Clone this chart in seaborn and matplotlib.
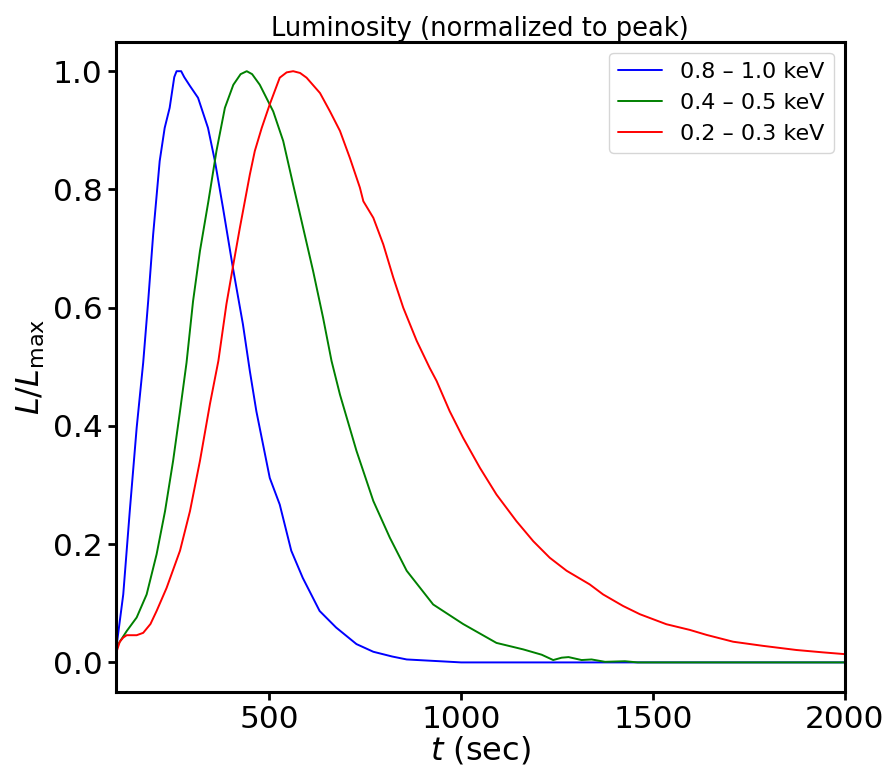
import numpy as np
import pandas as pd
import matplotlib
matplotlib.use("Agg")
import matplotlib.pyplot as plt
import seaborn as sns

# light curves, normalized to peak
t_hard = [100, 119, 136, 154, 171, 184, 197, 214, 227, 240, 252, 258, 270, 278, 293, 314, 340, 358,
          379, 405, 431, 449, 466, 501, 527, 557, 587, 631, 674, 727, 771, 820, 858, 944, 1000, 2000]
L_hard = [0.02, 0.115, 0.256, 0.397, 0.507, 0.611, 0.724, 0.848, 0.904, 0.938, 0.99, 1.0, 1.0, 0.99,
          0.975, 0.955, 0.904, 0.848, 0.769, 0.667, 0.572, 0.493, 0.425, 0.312, 0.267, 0.189, 0.143,
          0.087, 0.059, 0.031, 0.018, 0.010, 0.005, 0.002, 0.0, 0.0]

t_mid = [100, 106, 128, 154, 180, 206, 228, 249, 267, 284, 301, 319, 341, 362, 384, 406, 425, 441,
         455, 475, 510, 536, 562, 588, 614, 640, 662, 684, 727, 771, 814, 858, 927, 1005, 1092, 1162,
         1210, 1240, 1262, 1280, 1314, 1340, 1375, 1427, 1460, 2000]
L_mid = [0.02, 0.031, 0.053, 0.076, 0.115, 0.183, 0.256, 0.341, 0.425, 0.507, 0.611, 0.696, 0.780,
         0.865, 0.938, 0.977, 0.995, 1.0, 0.995, 0.977, 0.932, 0.882, 0.808, 0.735, 0.662, 0.583,
         0.51, 0.453, 0.358, 0.273, 0.211, 0.155, 0.098, 0.065, 0.033, 0.022, 0.013, 0.004, 0.008,
         0.009, 0.004, 0.005, 0.001, 0.002, 0.0, 0.0]

t_soft = [100, 110, 119, 128, 154, 171, 190, 206, 232, 267, 293, 319, 345, 367, 388, 406, 423, 436,
          449, 462, 480, 501, 527, 545, 562, 580, 597, 632, 658, 684, 710, 736, 745, 771, 797, 823,
          849, 884, 918, 936, 970, 1005, 1049, 1092, 1144, 1188, 1231, 1275, 1335, 1370, 1422, 1466,
          1535, 1596, 1640, 1709, 1787, 1874, 1943, 2000]
L_soft = [0.015, 0.035, 0.042, 0.046, 0.046, 0.050, 0.065, 0.087, 0.126, 0.189, 0.256, 0.341, 0.437,
          0.51, 0.606, 0.673, 0.735, 0.780, 0.825, 0.865, 0.904, 0.944, 0.989, 0.998, 1.0, 0.997,
          0.989, 0.963, 0.932, 0.899, 0.853, 0.803, 0.780, 0.752, 0.707, 0.651, 0.600, 0.544, 0.498,
          0.476, 0.425, 0.380, 0.329, 0.284, 0.239, 0.205, 0.177, 0.155, 0.132, 0.115, 0.0955,
          0.0815, 0.0646, 0.055, 0.0465, 0.035, 0.028, 0.021, 0.017, 0.014]

bands = ['0.8 – 1.0 keV', '0.4 – 0.5 keV', '0.2 – 0.3 keV']
colors = ['blue', 'green', 'red']

df = pd.concat([
    pd.DataFrame({'t': t_hard, 'L': L_hard, 'band': bands[0]}),
    pd.DataFrame({'t': t_mid, 'L': L_mid, 'band': bands[1]}),
    pd.DataFrame({'t': t_soft, 'L': L_soft, 'band': bands[2]}),
])

sns.set_style("ticks")
plt.rcParams['font.family'] = ['DejaVu Sans']
plt.rcParams['text.color'] = 'black'
plt.rcParams['axes.labelcolor'] = 'black'
plt.rcParams['xtick.color'] = 'black'
plt.rcParams['ytick.color'] = 'black'

fig = plt.figure(figsize=(8.92, 7.71), dpi=100)
ax = fig.add_axes([0.130, 0.1025, 0.817, 0.8435])

sns.lineplot(data=df, x='t', y='L', hue='band', hue_order=bands,
             palette=dict(zip(bands, colors)), linewidth=1.4, ax=ax, sort=False)

ax.set_xlim(100, 2000)
ax.set_ylim(-0.05, 1.05)
ax.set_xticks([500, 1000, 1500, 2000])
ax.set_yticks([0.0, 0.2, 0.4, 0.6, 0.8, 1.0])
ax.set_yticklabels(['0.0', '0.2', '0.4', '0.6', '0.8', '1.0'])
ax.tick_params(labelsize=22.5, width=2, length=6, direction='out')
for s in ax.spines.values():
    s.set_linewidth(2.2)
    s.set_color('black')

ax.set_xlabel('$t$ (sec)', fontsize=23, labelpad=0)
ax.set_ylabel('$L/L_{\\rm max}$', fontsize=23, labelpad=4)
ax.set_title('Luminosity (normalized to peak)', fontsize=18.5, pad=3)

ax.legend(loc='upper right', fontsize=16, frameon=True, title=None)

fig.savefig('out.png', dpi=100)
